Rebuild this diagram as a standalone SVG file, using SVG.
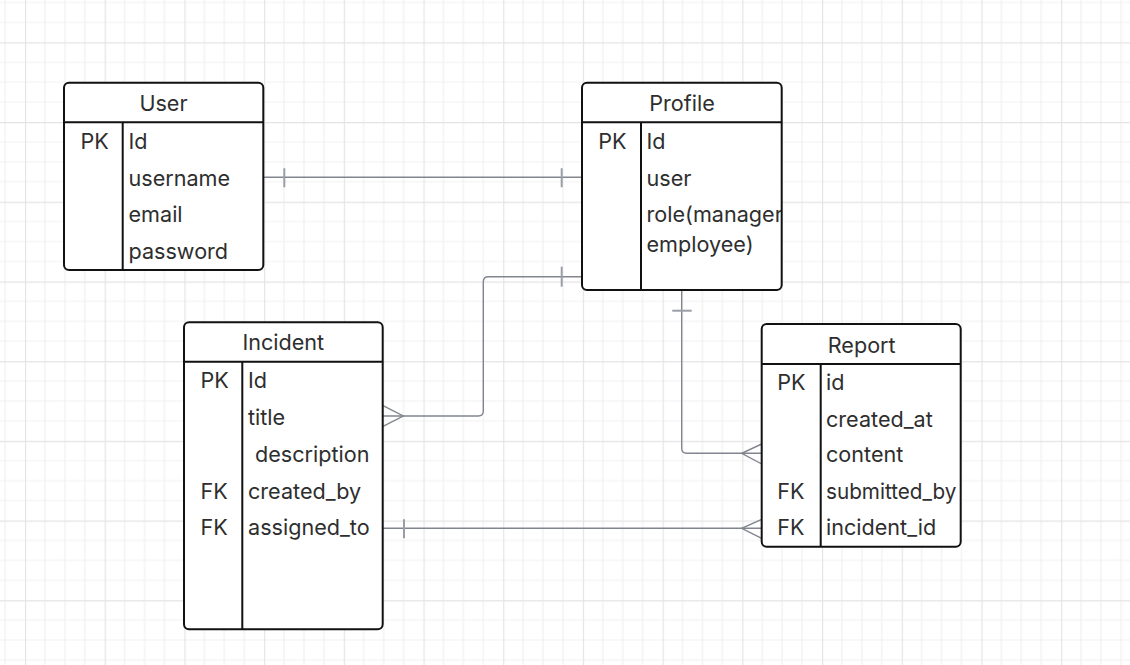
<svg xmlns="http://www.w3.org/2000/svg" width="1130" height="665" viewBox="0 0 1130 665">
<style>
.tbl{fill:#ffffff;stroke:#111111;stroke-width:2}
.div{stroke:#111111;stroke-width:2;fill:none}
.t{font-family:Inter,"Noto Sans","Liberation Sans",sans-serif;font-size:21.6px;fill:#2e2e2e}
.h{text-anchor:middle}
.conn{fill:none;stroke:#80858e;stroke-width:1.4}
.tick{fill:none;stroke:#9a9fa7;stroke-width:2}
</style>
<defs>
<pattern id="grid" patternUnits="userSpaceOnUse" x="25" y="42.3" width="79.7" height="79.7">
<path d="M19.925 0V79.7M39.85 0V79.7M59.775 0V79.7M0 19.925H79.7M0 39.85H79.7M0 59.775H79.7" stroke="#f1f1f1" stroke-width="1.2" fill="none"/>
<path d="M0.5 0V79.7M0 0.5H79.7" stroke="#e4e4e4" stroke-width="1.3" fill="none"/>
</pattern>
<clipPath id="profClip"><rect x="583" y="123" width="198" height="166"/></clipPath>
</defs>
<rect x="0" y="0" width="1130" height="665" fill="#ffffff"/>
<rect x="0" y="0" width="1130" height="665" fill="url(#grid)"/>

<g id="connectors">
<!-- User - Profile -->
<path class="conn" d="M263 177.3H582"/>
<path class="tick" d="M284.3 168.3V187.3M561.7 168.3V187.3"/>
<!-- Profile - Incident -->
<path class="conn" d="M582 276.7H488.3Q483.3 276.7 483.3 281.7V411Q483.3 416 478.3 416H383"/>
<path class="tick" d="M561.7 266.7V286.7"/>
<path class="conn" d="M383 405.7L403.3 416L383 426.3"/>
<!-- Profile - Report -->
<path class="conn" d="M681.7 290V448.3Q681.7 453.3 686.7 453.3H761.7"/>
<path class="tick" d="M672.3 310.7H691.7"/>
<path class="conn" d="M761.7 444L741.7 453.3L761.7 464"/>
<!-- Incident - Report -->
<path class="conn" d="M383 528.3H761.7"/>
<path class="tick" d="M404 519.3V538.3"/>
<path class="conn" d="M761.7 519.3L741.7 528.3L761.7 538.3"/>
</g>

<g id="user">
<rect class="tbl" x="64" y="82.7" width="199.3" height="187.3" rx="5"/>
<path class="div" d="M64 122.3H263.3M122.7 122.3V270"/>
<text class="t h" x="163.5" y="110.7">User</text>
<text class="t" x="80.5" y="149.3">PK</text>
<text class="t" x="128.5" y="149.3">Id</text>
<text class="t" x="128.5" y="185.7">username</text>
<text class="t" x="128.5" y="222.3">email</text>
<text class="t" x="128.5" y="258.7">password</text>
</g>

<g id="profile">
<rect class="tbl" x="582" y="82.7" width="199.7" height="207.3" rx="5"/>
<path class="div" d="M582 122.3H781.7M641 122.3V290"/>
<text class="t h" x="682" y="110.7">Profile</text>
<text class="t" x="598.3" y="149.3">PK</text>
<text class="t" x="646.5" y="149.3">Id</text>
<text class="t" x="646.5" y="185.7">user</text>
<g clip-path="url(#profClip)">
<text class="t" x="646.5" y="222.3">role(manager,</text>
</g>
<text class="t" x="646.5" y="251.5">employee)</text>
</g>

<g id="incident">
<rect class="tbl" x="184" y="322.3" width="198.7" height="307" rx="5"/>
<path class="div" d="M184 361.7H382.7M242.3 361.7V629.3"/>
<text class="t h" x="283.3" y="350">Incident</text>
<text class="t" x="200.5" y="388.3">PK</text>
<text class="t" x="248" y="388.3">Id</text>
<text class="t" x="248" y="425">title</text>
<text class="t" x="255" y="462">description</text>
<text class="t" x="200.5" y="498.5">FK</text>
<text class="t" x="248" y="498.5">created_by</text>
<text class="t" x="200.5" y="535">FK</text>
<text class="t" x="248" y="535">assigned_to</text>
</g>

<g id="report">
<rect class="tbl" x="761.7" y="324" width="199" height="222.7" rx="5"/>
<path class="div" d="M761.7 364H960.7M820.7 364V546.7"/>
<text class="t h" x="861.7" y="352.7">Report</text>
<text class="t" x="777.3" y="390">PK</text>
<text class="t" x="826" y="390">id</text>
<text class="t" x="826" y="426.7">created_at</text>
<text class="t" x="826" y="462">content</text>
<text class="t" x="777.3" y="498.5">FK</text>
<text class="t" x="826" y="498.5" textLength="130.5" lengthAdjust="spacingAndGlyphs">submitted_by</text>
<text class="t" x="777.3" y="535">FK</text>
<text class="t" x="826" y="535">incident_id</text>
</g>
</svg>
